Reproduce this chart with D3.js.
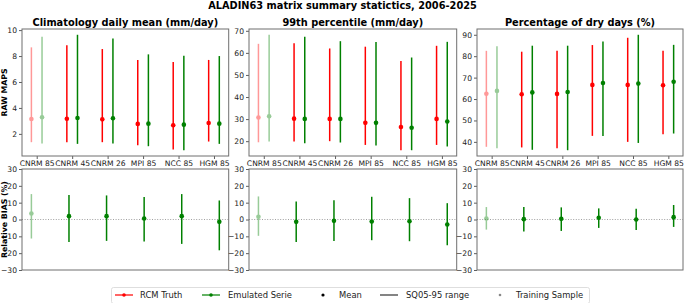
<!DOCTYPE html>
<html><head><meta charset="utf-8">
<script src="https://cdn.jsdelivr.net/npm/d3@7"></script>
<style>
body{margin:0;background:#fff;}
svg{display:block;font-family:"DejaVu Sans",sans-serif;}
</style></head>
<body><svg id="c" width="685" height="303"></svg>
<script>
// ---------------- DATA ----------------
const categories = ["CNRM 85","CNRM 45","CNRM 26","MPI 85","NCC 85","HGM 85"];
const trainingIndex = 0; // "Training Sample" drawn lighter
const panelTitles = ["Climatology daily mean (mm/day)","99th percentile  (mm/day)","Percentage of dry days (%)"];

// Climatology daily mean (mm/day)
const meanRcmClim = [3.15,3.17,3.12,2.77,2.66,2.84];
const q05RcmClim  = [1.36,1.36,1.36,1.13,0.80,1.41];
const q95RcmClim  = [8.67,8.83,8.54,7.70,7.55,7.70];
const meanEmuClim = [3.28,3.23,3.20,2.79,2.71,2.79];
const q05EmuClim  = [1.26,1.23,1.26,1.05,0.74,1.23];
const q95EmuClim  = [9.49,9.64,9.36,8.13,8.03,8.00];

// 99th percentile (mm/day)
const meanRcmP99 = [30.7,30.2,30.1,28.3,26.4,30.1];
const q05RcmP99  = [19.5,19.8,20.0,18.3,15.9,18.3];
const q95RcmP99  = [64.1,64.4,62.0,62.8,56.3,63.2];
const meanEmuP99 = [31.3,30.1,30.1,28.3,26.1,28.9];
const q05EmuP99  = [19.8,19.1,19.4,18.0,15.9,17.6];
const q95EmuP99  = [68.2,67.3,65.3,64.9,57.9,65.0];

// Percentage of dry days (%)
const meanRcmDry = [62.5,62.2,62.4,66.6,66.6,66.4];
const q05RcmDry  = [37.7,37.4,37.0,42.8,40.0,43.6];
const q95RcmDry  = [82.5,82.1,82.5,85.2,88.6,82.5];
const meanEmuDry = [63.8,63.1,63.3,67.5,67.2,68.1];
const q05EmuDry  = [37.0,36.3,36.1,42.8,39.5,43.9];
const q95EmuDry  = [84.7,84.9,84.9,86.9,90.0,85.3];

// Relative bias (%) of emulated vs RCM
const biasMeanClim = [3.6,2.0,2.0,0.6,2.0,-1.4];
const biasLowClim  = [-11.3,-13.3,-12.7,-13.1,-14.5,-18.3];
const biasHighClim = [15.1,14.5,14.3,13.3,15.1,11.3];
const biasMeanP99 = [1.6,-1.4,-0.8,-1.2,-1.0,-3.0];
const biasLowP99  = [-9.7,-13.3,-12.7,-12.3,-12.9,-15.3];
const biasHighP99 = [13.7,10.7,11.5,13.5,12.7,9.7];
const biasMeanDry = [0.6,0.2,0.4,1.0,0.0,1.4];
const biasLowDry  = [-6.0,-7.2,-6.8,-5.0,-6.2,-4.4];
const biasHighDry = [7.4,7.4,7.2,6.6,6.4,8.6];

const topTicks = [[2,4,6,8,10],[20,30,40,50,60,70],[40,50,60,70,80,90]];
const biasTicks = [-30,-20,-10,0,10,20,30];

// ---------------- LAYOUT ----------------
const svg = d3.select("#c");
const RED = "#ff0000", GREEN = "#008000";
const trainAlpha = 0.4;
const panelX = [[22,228.7],[249,456.7],[477,683]];
const topY = [29,156], botY = [169,270];
const spineCol = "#6f6f6f";
const fTick = 7.6;

const panels = [
  {rm:meanRcmClim,rl:q05RcmClim,rh:q95RcmClim,em:meanEmuClim,el:q05EmuClim,eh:q95EmuClim,
   bm:biasMeanClim,bl:biasLowClim,bh:biasHighClim},
  {rm:meanRcmP99,rl:q05RcmP99,rh:q95RcmP99,em:meanEmuP99,el:q05EmuP99,eh:q95EmuP99,
   bm:biasMeanP99,bl:biasLowP99,bh:biasHighP99},
  {rm:meanRcmDry,rl:q05RcmDry,rh:q95RcmDry,em:meanEmuDry,el:q05EmuDry,eh:q95EmuDry,
   bm:biasMeanDry,bl:biasLowDry,bh:biasHighDry}
];

function autoscale(lo, hi){ const m = (hi-lo)*0.05; return [lo-m, hi+m]; }

function styleAxis(g){
  g.select(".domain").remove();
  g.selectAll(".tick line").attr("stroke","#333").attr("stroke-width",0.8);
  g.selectAll(".tick text").attr("fill","#222").style("font-size",fTick+"px").style("font-family","DejaVu Sans");
}

function drawRange(g, x, lo, hi, mean, col, alpha, y){
  const gg = g.append("g").attr("opacity",alpha);
  gg.append("line").attr("x1",x).attr("x2",x).attr("y1",y(lo)).attr("y2",y(hi))
    .attr("stroke",col).attr("stroke-width",1.5);
  gg.append("circle").attr("cx",x).attr("cy",y(mean)).attr("r",2.3).attr("fill",col);
}

panels.forEach((p,pi)=>{
  const [x0,x1] = panelX[pi];
  // ---- top panel ----
  const lo = d3.min([...p.rl,...p.el]), hi = d3.max([...p.rh,...p.eh]);
  const y = d3.scaleLinear().domain(autoscale(lo,hi)).range([topY[1],topY[0]]);
  const off = 0.15;
  const x = d3.scaleLinear().domain(autoscale(-off, categories.length-1+off)).range([x0,x1]);
  const g = svg.append("g");
  categories.forEach((c,i)=>{
    const a = i===trainingIndex ? trainAlpha : 1;
    drawRange(g, x(i-off), p.rl[i], p.rh[i], p.rm[i], RED, a, y);
    drawRange(g, x(i+off), p.el[i], p.eh[i], p.em[i], GREEN, a, y);
  });
  const ya = svg.append("g").attr("transform",`translate(${x0},0)`)
    .call(d3.axisLeft(y).tickValues(topTicks[pi]).tickSize(3).tickPadding(2).tickFormat(d3.format("d")));
  styleAxis(ya);
  const xa = svg.append("g").attr("transform",`translate(0,${topY[1]})`)
    .call(d3.axisBottom(x).tickValues(d3.range(categories.length)).tickSize(3).tickPadding(1.5)
      .tickFormat(i=>categories[i]));
  styleAxis(xa);
  svg.append("rect").attr("x",x0).attr("y",topY[0]).attr("width",x1-x0).attr("height",topY[1]-topY[0])
    .attr("fill","none").attr("stroke",spineCol).attr("stroke-width",1);
  svg.append("text").attr("x",(x0+x1)/2).attr("y",topY[0]-3.5).attr("text-anchor","middle")
    .style("font-size","9.8px").style("font-weight","bold").attr("fill","#000").text(panelTitles[pi]);

  // ---- bottom (bias) panel ----
  const yb = d3.scaleLinear().domain([-30,30]).range([botY[1],botY[0]]);
  const xb = d3.scaleLinear().domain(autoscale(0,categories.length-1)).range([x0,x1]);
  const gb = svg.append("g");
  gb.append("line").attr("x1",x0).attr("x2",x1).attr("y1",yb(0)).attr("y2",yb(0))
    .attr("stroke","#888").attr("stroke-width",0.8).attr("stroke-dasharray","1,1.6");
  categories.forEach((c,i)=>{
    const a = i===trainingIndex ? trainAlpha : 1;
    drawRange(gb, xb(i), p.bl[i], p.bh[i], p.bm[i], GREEN, a, yb);
  });
  const yba = svg.append("g").attr("transform",`translate(${x0},0)`)
    .call(d3.axisLeft(yb).tickValues(biasTicks).tickSize(3).tickPadding(2));
  styleAxis(yba);
  svg.append("rect").attr("x",x0).attr("y",botY[0]).attr("width",x1-x0).attr("height",botY[1]-botY[0])
    .attr("fill","none").attr("stroke",spineCol).attr("stroke-width",1);
});

// suptitle
svg.append("text").attr("x",342.5).attr("y",9).attr("text-anchor","middle")
  .style("font-size","9.8px").style("font-weight","bold").text("ALADIN63 matrix summary statictics, 2006-2025");

// y labels
svg.append("text").attr("transform",`translate(7,${(topY[0]+topY[1])/2}) rotate(-90)`)
  .attr("text-anchor","middle").style("font-size","7.8px").style("font-weight","bold").text("RAW MAPS");
svg.append("text").attr("transform",`translate(7,${(botY[0]+botY[1])/2}) rotate(-90)`)
  .attr("text-anchor","middle").style("font-size","7.8px").style("font-weight","bold").text("Relative BIAS (%)");

// legend
const lg = svg.append("g");
lg.append("rect").attr("x",111.5).attr("y",287.5).attr("width",478).attr("height",16).attr("rx",2)
  .attr("fill","#fff").attr("stroke","#d6d6d6").attr("stroke-width",0.8);
const ly = 295;
const legendItems = [
  {type:"linemark", col:RED, x:115, label:"RCM Truth", tx:140},
  {type:"linemark", col:GREEN, x:202, label:"Emulated Serie", tx:228},
  {type:"dot", col:"#000", x:323, r:1.6, label:"Mean", tx:339},
  {type:"line", col:"#333", x:380, label:"SQ05-95 range", tx:406},
  {type:"dot", col:"#888", x:500, r:1.3, label:"Training Sample", tx:516}
];
legendItems.forEach(it=>{
  if(it.type!=="dot"){
    lg.append("line").attr("x1",it.x).attr("x2",it.x+18).attr("y1",ly).attr("y2",ly)
      .attr("stroke",it.col).attr("stroke-width",1.2);
    if(it.type==="linemark") lg.append("circle").attr("cx",it.x+9).attr("cy",ly).attr("r",1.8).attr("fill",it.col);
  } else {
    lg.append("circle").attr("cx",it.x).attr("cy",ly).attr("r",it.r).attr("fill",it.col);
  }
  lg.append("text").attr("x",it.tx).attr("y",ly).attr("dy","0.35em").style("font-size","8.4px")
    .attr("fill","#222").text(it.label);
});
</script></body></html>
